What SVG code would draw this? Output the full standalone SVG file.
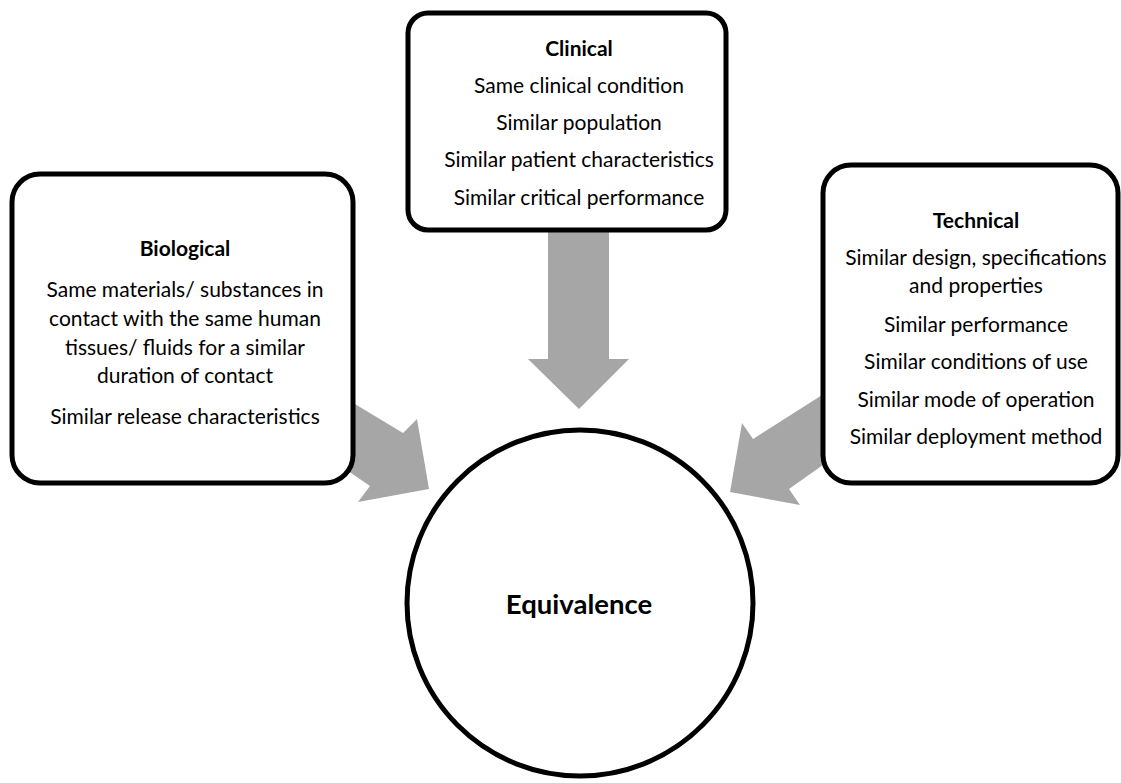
<svg xmlns="http://www.w3.org/2000/svg" width="1121" height="783" viewBox="0 0 1121 783">
<style>
.box{fill:#fff;stroke:#000;stroke-width:5}
.arrow{fill:#a6a6a6;stroke:none}
text{font-family:Lato,"Liberation Sans",sans-serif;font-size:21px;fill:#000;text-anchor:middle}
.h{font-weight:bold}
.big{font-size:27.5px;font-weight:bold}
</style>
<rect width="1121" height="783" fill="#fff"/>
<g id="connectors">
<polygon class="arrow" points="548,228 609,228 609,359 629,359 579,409 528,359 548,359"/>
<polygon class="arrow" points="340,395 403,433 417,419 429,489 358,502 370,486 335,462"/>
<polygon class="arrow" points="830,390 753,439 742,423 730,492 800,505 789,489 830,460"/>
</g>
<g id="clinical">
<rect class="box" x="408" y="13" width="318" height="217" rx="20"/>
<text class="h" x="579" y="56">Clinical</text>
<text x="579" y="93">Same clinical condition</text>
<text x="579" y="130">Similar population</text>
<text x="579" y="167">Similar patient characteristics</text>
<text x="579" y="205">Similar critical performance</text>
</g>
<g id="biological">
<rect class="box" x="12" y="174" width="341" height="309" rx="28"/>
<text class="h" x="185" y="256">Biological</text>
<text x="185" y="297">Same materials/ substances in</text>
<text x="185" y="326">contact with the same human</text>
<text x="185" y="355">tissues/ fluids for a similar</text>
<text x="185" y="383">duration of contact</text>
<text x="185" y="424">Similar release characteristics</text>
</g>
<g id="technical">
<rect class="box" x="823" y="165" width="295" height="318" rx="28"/>
<text class="h" x="976" y="228">Technical</text>
<text x="976" y="265">Similar design, specifications</text>
<text x="976" y="293">and properties</text>
<text x="976" y="332">Similar performance</text>
<text x="976" y="369">Similar conditions of use</text>
<text x="976" y="407">Similar mode of operation</text>
<text x="976" y="444">Similar deployment method</text>
</g>
<g id="equivalence">
<circle class="box" cx="580" cy="603" r="173"/>
<text class="big" x="579" y="614">Equivalence</text>
</g>
</svg>
